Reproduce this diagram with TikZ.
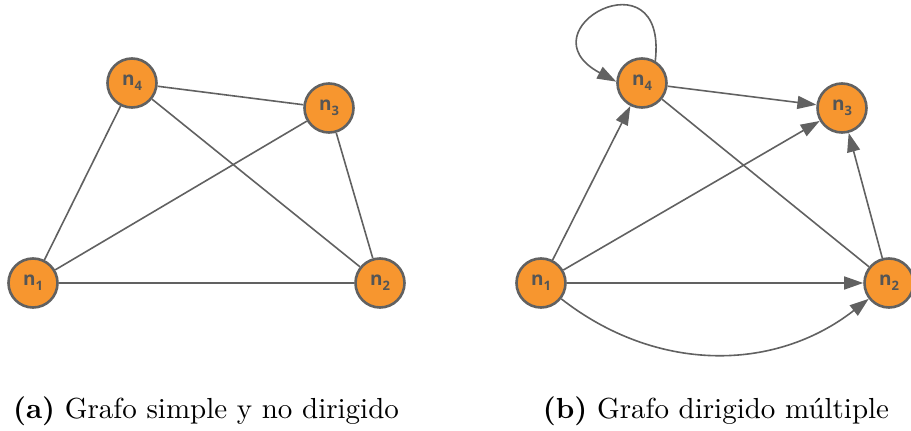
\documentclass[tikz,border=0pt]{standalone}
\usepackage{fontspec}
\newfontfamily\nodefont{Open Sans}
\usetikzlibrary{arrows.meta}
\definecolor{nodefill}{HTML}{F7962F}
\definecolor{edgegray}{HTML}{616161}
\definecolor{labelgray}{HTML}{555555}
\newcommand{\vlabel}[1]{n\raisebox{-0.25em}{\fontsize{13}{13}\selectfont #1}}
\newcommand{\capttext}[1]{\scalebox{2.9}{\fontsize{10}{12}\selectfont #1}}
\tikzset{
  vertex/.style={circle, draw=edgegray, line width=2.6pt, fill=nodefill,
    minimum size=49pt, inner sep=0pt, text=labelgray,
    font=\nodefont\bfseries\fontsize{19}{19}\selectfont},
  link/.style={draw=edgegray, line width=1.6pt},
  arc/.style={link, -{Triangle[length=19pt,width=13pt]}},
  caption/.style={anchor=base, inner sep=0pt}
}
\begin{document}
\begin{tikzpicture}[x=1pt,y=-1pt]
\useasboundingbox (0,0) rectangle (911,431);

% (a) undirected simple graph
\node[vertex] (a1) at (33,283) {\vlabel{1}};
\node[vertex] (a2) at (380,283) {\vlabel{2}};
\node[vertex] (a3) at (329,108) {\vlabel{3}};
\node[vertex] (a4) at (132,83) {\vlabel{4}};
\draw[link] (a1) -- (a4);
\draw[link] (a1) -- (a3);
\draw[link] (a1) -- (a2);
\draw[link] (a4) -- (a3);
\draw[link] (a4) -- (a2);
\draw[link] (a3) -- (a2);

% (b) directed multigraph
\node[vertex] (b1) at (541,283) {\vlabel{1}};
\node[vertex] (b2) at (889,283) {\vlabel{2}};
\node[vertex] (b3) at (842,108) {\vlabel{3}};
\node[vertex] (b4) at (642,83) {\vlabel{4}};
\draw[arc] (b1) -- (b4);
\draw[arc] (b1) -- (b3);
\draw[arc] (b1) -- (b2);
\draw[arc] (b1) to[bend right=38] (b2);
\draw[arc] (b4) -- (b3);
\draw[link] (b4) -- (b2);
\draw[arc] (b2) -- (b3);
% self-loop on n4
\draw[arc] (b4.59) .. controls (668,-50) and (520,30) .. (b4.177);

% captions
\node[caption] (capa) at (206,418) {\capttext{\textbf{(a)} Grafo simple y no dirigido}};
\node[caption] (capb) at (716,418) {\capttext{\textbf{(b)} Grafo dirigido múltiple}};
\end{tikzpicture}
\end{document}
